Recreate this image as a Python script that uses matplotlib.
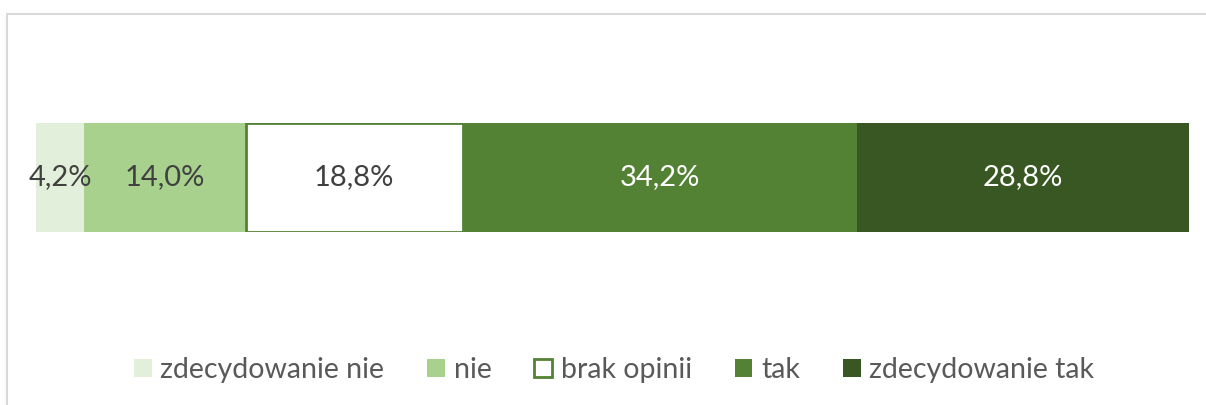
import matplotlib
matplotlib.use("Agg")
import matplotlib.pyplot as plt
from matplotlib.patches import Rectangle

categories = ["zdecydowanie nie", "nie", "brak opinii", "tak", "zdecydowanie tak"]
values = [4.2, 14.0, 18.8, 34.2, 28.8]
labels = ["4,2%", "14,0%", "18,8%", "34,2%", "28,8%"]
colors = ["#E2EFDA", "#A9D18E", "#FFFFFF", "#548235", "#385723"]
edges = ["none", "none", "#548235", "none", "none"]
text_colors = ["#404040", "#404040", "#404040", "#FFFFFF", "#FFFFFF"]

plt.rcParams['font.family'] = ['Lato', 'DejaVu Sans']

W, H = 1206, 405
fig = plt.figure(figsize=(W / 100, H / 100), dpi=100)
fig.patch.set_facecolor("white")

# outer frame
fig.add_artist(Rectangle((7 / W, -0.1), 1.2, 1 - 14 / H + 0.1, transform=fig.transFigure,
                         fill=False, edgecolor="#D9D9D9", linewidth=1.5))

ax = fig.add_axes([36 / W, 1 - 232 / H, (1189 - 36) / W, (232 - 123) / H])
left = 0.0
handles = []
for cat, v, lab, c, e, tc in zip(categories, values, labels, colors, edges, text_colors):
    lw = 2 if e != "none" else 0
    b = ax.barh(0, v, left=left, height=1.0, color=c, edgecolor=e, linewidth=lw, label=cat)
    handles.append(b)
    ax.text(left + v / 2, 0, lab, ha="center", va="center", fontsize=21, color=tc)
    left += v
ax.set_xlim(0, 100)
ax.set_ylim(-0.5, 0.5)
ax.axis("off")

leg = fig.legend(handles, categories, loc="center", bbox_to_anchor=(614 / W, 1 - 370 / H),
                 ncol=5, frameon=False, fontsize=20.5, handlelength=0.63, handleheight=0.63,
                 handletextpad=0.3, columnspacing=1.5, labelcolor="#595959")
fig.savefig("out.png", dpi=100, facecolor="white")
